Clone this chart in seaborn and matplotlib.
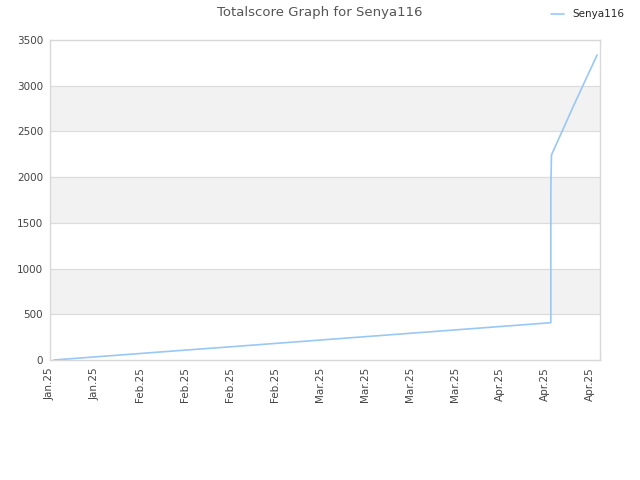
import numpy as np
import pandas as pd
import matplotlib
matplotlib.use("Agg")
import matplotlib.pyplot as plt
import seaborn as sns

# days counted from the first tick (Jan 22), score
days = [0.6, 7, 14, 21, 28, 35, 42, 49, 56, 63, 70, 77.9, 77.9, 78.0, 81.5, 85.1]
scores = [0, 34, 71, 108, 144, 181, 218, 255, 292, 329, 366, 408, 1848, 2242, 2790, 3336]

tick_days = [0, 7, 14, 21, 28, 35, 42, 49, 56, 63, 70, 77, 84]
tick_labels = ["Jan.25", "Jan.25", "Feb.25", "Feb.25", "Feb.25", "Feb.25", "Mar.25",
               "Mar.25", "Mar.25", "Mar.25", "Apr.25", "Apr.25", "Apr.25"]
y_ticks = [0, 500, 1000, 1500, 2000, 2500, 3000, 3500]

df = pd.DataFrame({"day": days, "score": scores, "player": "Senya116"})

sns.set_theme(style="white")
plt.rcParams['font.family'] = ['DejaVu Sans']

fig = plt.figure(figsize=(6.4, 4.8), dpi=100)
ax = fig.add_axes([50 / 640, 120 / 480, 550 / 640, 320 / 480])

# alternating grey bands
for lo in range(500, 3500, 1000):
    ax.axhspan(lo, lo + 500, color="#f2f2f2", zorder=0, lw=0)
for y in y_ticks[1:-1]:
    ax.axhline(y, color="#dcdcdc", lw=0.9, zorder=1)

sns.lineplot(data=df, x="day", y="score", hue="player", palette=["#99c8f5"],
             sort=False, estimator=None, lw=1.2, ax=ax, zorder=3)

ax.set_xlim(0, 85.55)
ax.set_ylim(0, 3500)
ax.set_xticks(tick_days)
ax.set_xticklabels(tick_labels, rotation=90, fontsize=7.5, color="#444444")
ax.set_yticks(y_ticks)
ax.set_yticklabels([str(v) for v in y_ticks], fontsize=7.5, color="#444444")
ax.tick_params(axis="both", length=0, pad=5)
ax.set_xlabel("")
ax.set_ylabel("")
for s in ax.spines.values():
    s.set_color("#d8d8d8")
    s.set_linewidth(1)

handles, labels = ax.get_legend_handles_labels()
ax.get_legend().remove()
fig.legend(handles, labels, loc="upper right", bbox_to_anchor=(0.99, 1.0),
           frameon=False, fontsize=7.5, handlelength=1.2, handletextpad=0.8)

fig.text(0.5, 0.988, "Totalscore Graph for Senya116", ha="center", va="top",
         fontsize=9.5, color="#555555")

fig.savefig("out.png", dpi=100)
